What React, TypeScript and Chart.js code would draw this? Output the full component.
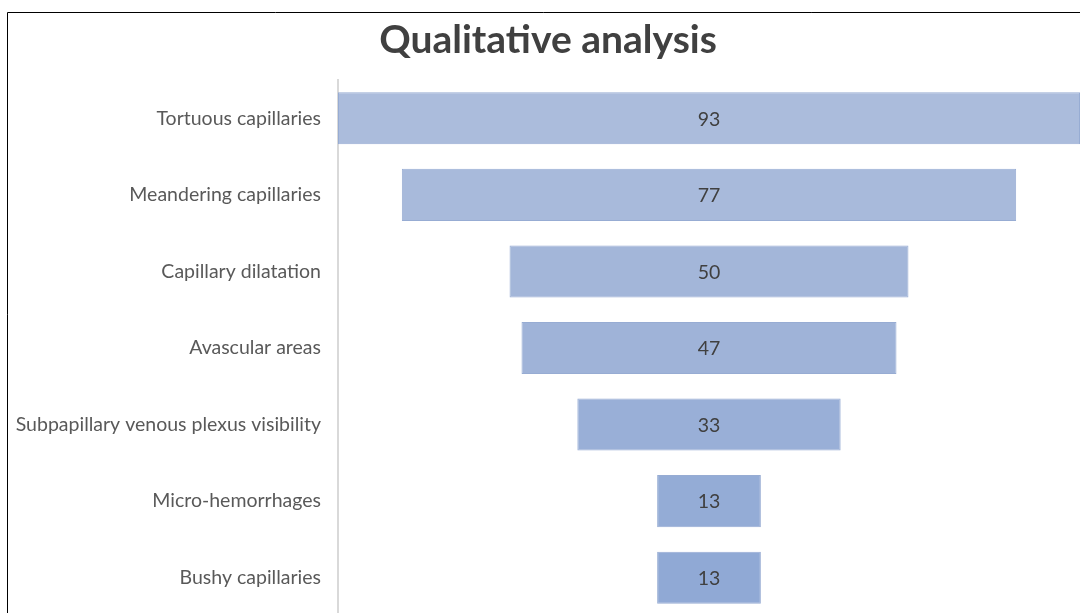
import React, { useEffect, useRef } from "react";
import { Chart, registerables } from "chart.js";

Chart.register(...registerables);

const categories = [
  "Tortuous capillaries",
  "Meandering capillaries",
  "Capillary dilatation",
  "Avascular areas",
  "Subpapillary venous plexus visibility",
  "Micro-hemorrhages",
  "Bushy capillaries",
];
const values = [93, 77, 50, 47, 33, 13, 13];
const barColors = ["#ABBCDC", "#A8BADB", "#A3B6D9", "#9FB3D8", "#99AFD7", "#94ACD6", "#90A9D5"];
const titleText = "Qualitative analysis";
const axisMax = 93;

const framePlugin = {
  id: "frame",
  afterDraw(chart: any) {
    const ctx = chart.ctx;
    ctx.save();
    ctx.strokeStyle = "#000000";
    ctx.lineWidth = 1;
    ctx.beginPath();
    ctx.moveTo(7.5, chart.height);
    ctx.lineTo(7.5, 12.5);
    ctx.lineTo(chart.width, 12.5);
    ctx.stroke();
    ctx.restore();
  },
};

const titlePlugin = {
  id: "customTitle",
  afterDraw(chart: any) {
    const ctx = chart.ctx;
    ctx.save();
    ctx.fillStyle = "#404040";
    ctx.font = "bold 39px Lato, 'Open Sans', sans-serif";
    ctx.textAlign = "center";
    ctx.textBaseline = "alphabetic";
    ctx.fillText(titleText, 548, 53);
    ctx.restore();
  },
};

const valueLabelPlugin = {
  id: "valueLabels",
  afterDatasetsDraw(chart: any) {
    const ctx = chart.ctx;
    const meta = chart.getDatasetMeta(0);
    ctx.save();
    ctx.fillStyle = "#404040";
    ctx.font = "19.5px Lato, 'Open Sans', sans-serif";
    ctx.textAlign = "center";
    ctx.textBaseline = "middle";
    meta.data.forEach((bar: any, i: number) => {
      const { x, base, y } = bar.getProps(["x", "base", "y"], true);
      ctx.fillText(String(values[i]), (x + base) / 2, y + 1);
    });
    ctx.restore();
  },
};

export default function App() {
  const ref = useRef<HTMLCanvasElement>(null);

  useEffect(() => {
    let chart: Chart | null = null;
    let cancelled = false;
    const build = () => {
      if (cancelled || !ref.current) return;
      const center = axisMax / 2;
      chart = new Chart(ref.current, {
        type: "bar",
        data: {
          labels: categories,
          datasets: [
            {
              data: values.map((v) => [center - v / 2, center + v / 2]) as any,
              backgroundColor: barColors,
              borderColor: "#97ACD3",
              borderWidth: 1,
              borderSkipped: false,
              barPercentage: 0.68,
              categoryPercentage: 1,
            },
          ],
        },
        options: {
          indexAxis: "y",
          animation: false,
          responsive: false,
          maintainAspectRatio: false,
          layout: { padding: { top: 80, right: 0, bottom: 0, left: 0 } },
          scales: {
            x: { display: false, min: 0, max: axisMax },
            y: {
              grid: { display: false, drawTicks: false },
              border: { display: true, color: "#D9D9D9", width: 2 },
              ticks: {
                padding: 17,
                color: "#595959",
                font: { family: "Lato, 'Open Sans', sans-serif", size: 19.5 },
              },
              afterFit: (s: any) => {
                s.width = 338;
                s.paddingTop = 0;
                s.paddingBottom = 0;
              },
            },
          },
          plugins: {
            legend: { display: false },
            tooltip: { enabled: false },
            title: { display: false },
          },
        },
        plugins: [framePlugin, titlePlugin, valueLabelPlugin],
      });
    };
    const fonts = (document as any).fonts;
    if (fonts && fonts.load) {
      Promise.all([fonts.load("17px Lato"), fonts.load("bold 35px Lato")])
        .catch(() => {})
        .then(build);
    } else {
      build();
    }
    return () => {
      cancelled = true;
      if (chart) chart.destroy();
    };
  }, []);

  return (
    <div
      style={{
        position: "fixed",
        left: 0,
        top: 0,
        width: 1080,
        height: 613,
        overflow: "hidden",
        background: "#ffffff",
      }}
    >
      <canvas ref={ref} width={1080} height={616} style={{ display: "block" }} />
    </div>
  );
}
